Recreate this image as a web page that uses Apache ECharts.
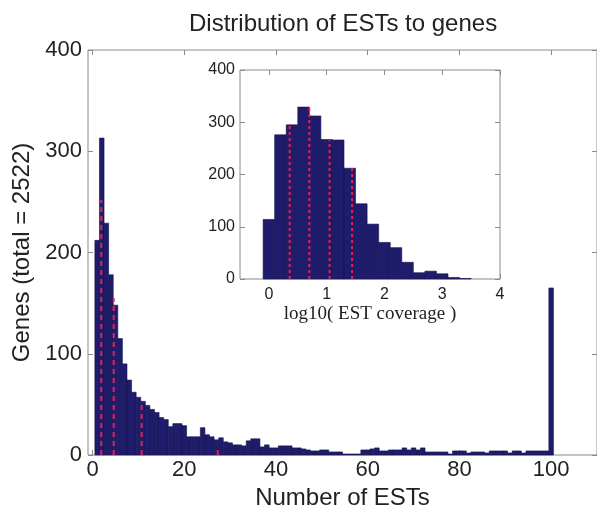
<!DOCTYPE html>
<html>
<head>
<meta charset="utf-8">
<script src="https://cdn.jsdelivr.net/npm/echarts@6/dist/echarts.min.js"></script>
<style>
	html, body { margin: 0; padding: 0; background: #fff; }
	#chart { width: 597px; height: 507px; }
</style>
</head>
<body>
<div id="chart"></div>
<script>
// genes per number of ESTs, bins 1..100 (100 = "100 or more")
const estCounts = [
	212, 313, 229, 178, 148, 115, 90, 74, 62, 57,
	53, 49, 45, 42, 37, 35, 28, 31, 31, 29,
	18, 18, 18, 27, 20, 18, 15, 17, 13, 12,
	10, 10, 9, 14, 16, 16, 8, 10, 7, 7,
	9, 9, 9, 7, 7, 6, 5, 4, 4, 5,
	5, 3, 3, 3, 1, 1, 1, 1, 5, 5,
	6, 7, 4, 4, 5, 5, 5, 7, 5, 7,
	5, 7, 3, 3, 3, 3, 3, 1, 4, 4,
	4, 2, 3, 3, 3, 2, 4, 4, 4, 4,
	2, 4, 4, 2, 4, 4, 4, 4, 4, 165,
];
const estBins = estCounts.map((v, i) => i + 1);

// inset: log10 coverage histogram
const logBins = [0, 0.2, 0.4, 0.6, 0.8, 1.0, 1.2, 1.4, 1.6, 1.8, 2.0, 2.2, 2.4, 2.6, 2.8, 3.0, 3.2, 3.4];
const logCounts = [114, 276, 295, 329, 312, 267, 266, 212, 144, 105, 70, 60, 32, 12, 15, 10, 3, 1];

// red dashed markers
const estMarks = [1.9, 4.6, 10.7, 27.3];
const estMarkHeights = [252, 155, 52, 7];
const logMarks = [0.36, 0.7, 1.05, 1.44];
const logMarkHeights = [295, 327, 266, 212];

const estTicks = [0, 20, 40, 60, 80, 100];
const logTicks = [0, 1, 2, 3, 4];

const barColor = "#1f1c6b";
const edgeColor = "#15134f";
const redColor = "#dc2355";
const boxColor = "#8a8a8a";
const textColor = "#222";
const sans = "Liberation Sans";

function histItem(width) {
	return (params, api) => {
		const x = api.value(0);
		const p0 = api.coord([x - width / 2, 0]);
		const p1 = api.coord([x + width / 2, api.value(1)]);
		return {
			type: "rect",
			shape: { x: p0[0], y: p1[1], width: p1[0] - p0[0], height: p0[1] - p1[1] },
			style: { fill: barColor, stroke: edgeColor, lineWidth: 0.6 },
		};
	};
}

function markItem(dash) {
	return (params, api) => {
		const a = api.coord([api.value(0), 0]);
		const b = api.coord([api.value(0), api.value(1)]);
		return {
			type: "line",
			shape: { x1: a[0], y1: a[1], x2: b[0], y2: b[1] },
			style: { stroke: redColor, lineWidth: 2, lineDash: dash },
		};
	};
}

function xAx(grid, min, max, ticks, pos, opts) {
	return Object.assign({
		type: "value", gridIndex: grid, min, max, position: pos,
		axisLine: { show: false, onZero: false },
		axisTick: { show: true, inside: true, length: 5, customValues: ticks, lineStyle: { color: boxColor } },
		axisLabel: { show: false },
		splitLine: { show: false },
	}, opts || {});
}

function yAx(grid, pos, opts) {
	return Object.assign({
		type: "value", gridIndex: grid, min: 0, max: 400, interval: 100, position: pos,
		axisLine: { show: false, onZero: false },
		axisTick: { show: true, inside: true, length: 5, lineStyle: { color: boxColor } },
		axisLabel: { show: false },
		splitLine: { show: false },
	}, opts || {});
}

const option = {
	animation: false,
	backgroundColor: "#fff",
	title: {
		text: "Distribution of ESTs to genes",
		left: 184,
		top: 7,
		textStyle: { fontFamily: sans, fontSize: 24, fontWeight: "normal", color: textColor },
	},
	grid: [
		{ left: 88, right: 0, top: 50, bottom: 52, outerBoundsMode: "none", show: true, borderColor: boxColor, borderWidth: 1 },
		{ left: 240, right: 97, top: 70, bottom: 228, outerBoundsMode: "none", show: true, borderColor: boxColor, borderWidth: 1, backgroundColor: "#fff" },
	],
	xAxis: [
		xAx(0, -1, 110, estTicks, "bottom", {
			axisLabel: { show: true, customValues: estTicks, margin: 4, fontFamily: sans, fontSize: 22, color: textColor },
			name: "Number of ESTs",
			nameLocation: "middle",
			nameGap: 31,
			nameTextStyle: { fontFamily: sans, fontSize: 24, color: textColor },
		}),
		xAx(0, -1, 110, estTicks, "top"),
		xAx(1, -0.5, 4, logTicks, "bottom", {
			axisLabel: { show: true, customValues: logTicks, margin: 8, fontFamily: sans, fontSize: 16, color: textColor },
			name: "log10( EST coverage )",
			nameLocation: "middle",
			nameGap: 26,
			nameTextStyle: { fontFamily: "Liberation Serif", fontSize: 19, color: textColor },
		}),
		xAx(1, -0.5, 4, logTicks, "top"),
	],
	yAxis: [
		yAx(0, "left", {
			axisLabel: { show: true, margin: 6, fontFamily: sans, fontSize: 22, color: textColor },
			name: "Genes (total = 2522)",
			nameLocation: "middle",
			nameGap: 52,
			nameTextStyle: { fontFamily: sans, fontSize: 24, color: textColor },
		}),
		yAx(0, "right"),
		yAx(1, "left", {
			axisLabel: { show: true, margin: 5, fontFamily: sans, fontSize: 16, color: textColor },
		}),
		yAx(1, "right"),
	],
	series: [
		{
			type: "custom", xAxisIndex: 0, yAxisIndex: 0,
			renderItem: histItem(1),
			data: estBins.map((b, i) => [b, estCounts[i]]),
		},
		{
			type: "custom", xAxisIndex: 0, yAxisIndex: 0, z: 3,
			renderItem: markItem([5, 4]),
			data: estMarks.map((m, i) => [m, estMarkHeights[i]]),
		},
		{
			type: "custom", xAxisIndex: 2, yAxisIndex: 2,
			renderItem: histItem(0.2),
			data: logBins.map((b, i) => [b, logCounts[i]]),
		},
		{
			type: "custom", xAxisIndex: 2, yAxisIndex: 2, z: 3,
			renderItem: markItem([3, 3]),
			data: logMarks.map((m, i) => [m, logMarkHeights[i]]),
		},
	],
};

const chart = echarts.init(document.getElementById("chart"));
chart.setOption(option);
</script>
</body>
</html>
